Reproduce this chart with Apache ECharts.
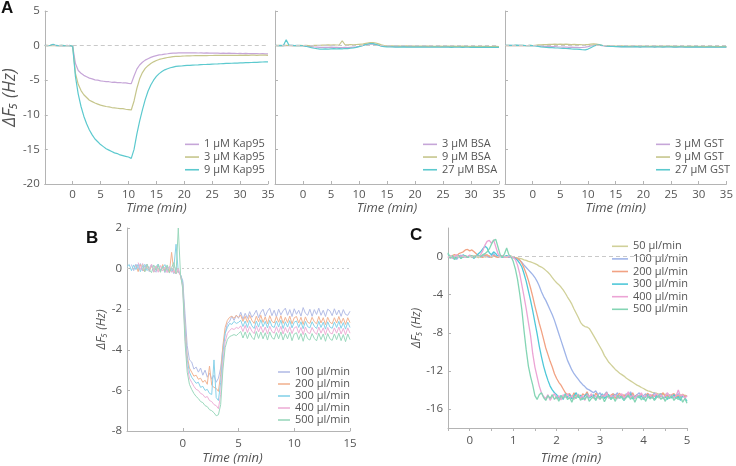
<!DOCTYPE html>
<html><head><meta charset="utf-8">
<script src="https://cdn.jsdelivr.net/npm/echarts@6/dist/echarts.min.js"></script>
<style>html,body{margin:0;padding:0;background:#fff}#c{width:736px;height:466px}</style>
</head><body><div id="c"></div>
<script>
// ---------- time grids (start, step) ----------
const tA0 = -5, tAstep = 0.5;   // panels A: -5..35 min, 81 samples
const tB0 = -5, tBstep = 0.2;   // panel B: -5..15 min, 101 samples
const tC0 = -0.5, tCstep = 0.05;// panel C: -0.5..5 min, 111 samples

// ---------- Panel A1: Kap95 ----------
const kap1 = [0.02,-0.01,0.03,0.15,-0.02,0.01,0.0,-0.03,0.02,-0.04,-0.08,
 -2.6,-3.6,-4.0,-4.3,-4.5,-4.7,-4.8,-4.95,-5.0,-5.1,
 -5.15,-5.2,-5.22,-5.3,-5.28,-5.35,-5.33,-5.4,-5.38,-5.45,
 -5.5,-4.4,-3.4,-2.8,-2.4,-2.1,-1.9,-1.7,-1.55,-1.45,
 -1.35,-1.3,-1.22,-1.18,-1.12,-1.1,-1.08,-1.06,-1.05,-1.04,
 -1.05,-1.03,-1.06,-1.04,-1.07,-1.05,-1.08,-1.06,-1.09,-1.07,
 -1.1,-1.08,-1.11,-1.09,-1.12,-1.1,-1.13,-1.11,-1.14,-1.12,
 -1.15,-1.13,-1.16,-1.14,-1.17,-1.15,-1.18,-1.16,-1.19,-1.2];
const kap3 = [0.0,0.02,-0.02,0.03,0.01,-0.01,0.02,0.0,-0.02,0.01,-0.1,
 -4.0,-5.6,-6.5,-7.1,-7.5,-7.9,-8.1,-8.3,-8.45,-8.6,
 -8.7,-8.8,-8.85,-8.95,-9.0,-9.05,-9.1,-9.1,-9.2,-9.25,
 -9.3,-8.0,-6.2,-4.8,-3.9,-3.3,-2.9,-2.6,-2.35,-2.15,
 -2.0,-1.9,-1.8,-1.72,-1.66,-1.6,-1.57,-1.55,-1.53,-1.5,
 -1.49,-1.48,-1.47,-1.46,-1.46,-1.45,-1.44,-1.44,-1.43,-1.43,
 -1.42,-1.42,-1.41,-1.42,-1.4,-1.41,-1.4,-1.41,-1.4,-1.39,
 -1.4,-1.39,-1.4,-1.38,-1.39,-1.4,-1.38,-1.39,-1.38,-1.4];
const kap9 = [0.03,0.0,0.05,0.2,0.02,-0.01,0.03,0.0,-0.02,0.02,-0.1,
 -4.5,-7.0,-8.8,-10.2,-11.3,-12.2,-12.9,-13.5,-13.9,-14.3,
 -14.6,-14.9,-15.1,-15.3,-15.5,-15.6,-15.8,-15.9,-16.0,-16.1,
 -16.3,-15.0,-12.8,-10.9,-9.3,-7.8,-6.6,-5.7,-5.0,-4.45,
 -4.05,-3.75,-3.5,-3.35,-3.2,-3.1,-3.0,-2.97,-2.95,-2.9,
 -2.87,-2.85,-2.82,-2.8,-2.78,-2.75,-2.73,-2.72,-2.7,-2.68,
 -2.66,-2.65,-2.62,-2.6,-2.58,-2.57,-2.55,-2.53,-2.52,-2.5,
 -2.49,-2.47,-2.46,-2.44,-2.42,-2.41,-2.39,-2.37,-2.36,-2.35];

// ---------- Panel A2: BSA ----------
const bsa3 = [0.02,0.01,-0.02,0.03,0,-0.01,0.02,0,-0.02,0.01,0,
 -0.05,-0.1,-0.15,-0.2,-0.22,-0.25,-0.24,-0.27,-0.25,-0.22,
 -0.25,-0.24,-0.28,-0.3,-0.27,-0.3,-0.26,-0.22,-0.18,-0.1,
 0.0,0.1,0.18,0.25,0.22,0.15,0.05,-0.05,-0.1,-0.12,
 -0.1,-0.14,-0.12,-0.15,-0.13,-0.12,-0.16,-0.14,-0.12,-0.15,
 -0.14,-0.13,-0.16,-0.12,-0.15,-0.14,-0.17,-0.13,-0.15,-0.16,
 -0.14,-0.15,-0.18,-0.14,-0.16,-0.15,-0.17,-0.16,-0.14,-0.18,
 -0.16,-0.15,-0.18,-0.17,-0.15,-0.19,-0.16,-0.18,-0.17,-0.2];
const bsa9 = [0,0.02,0.01,-0.01,0.03,0.02,0,0.01,-0.01,0.02,0.01,
 0.02,0,-0.03,0.02,0.05,0.04,0.08,0.06,0.1,0.08,
 0.1,0.09,0.12,0.7,0.12,0.1,0.14,0.12,0.16,0.18,
 0.2,0.28,0.35,0.42,0.45,0.38,0.25,0.1,0.0,-0.03,
 -0.05,-0.04,-0.06,-0.05,-0.07,-0.06,-0.05,-0.08,-0.06,-0.07,
 -0.08,-0.06,-0.07,-0.09,-0.07,-0.08,-0.1,-0.08,-0.09,-0.1,
 -0.09,-0.08,-0.1,-0.09,-0.11,-0.1,-0.09,-0.11,-0.1,-0.12,
 -0.1,-0.11,-0.13,-0.1,-0.12,-0.11,-0.13,-0.12,-0.11,-0.13];
const bsa27 = [0.03,0.01,0.02,0,0.85,0.05,0.02,-0.01,0.02,0,-0.02,
 -0.1,-0.2,-0.3,-0.38,-0.45,-0.5,-0.52,-0.48,-0.5,-0.47,
 -0.45,-0.48,-0.44,-0.46,-0.42,-0.44,-0.38,-0.32,-0.25,-0.15,
 -0.05,0.1,0.2,0.3,0.28,0.18,0.05,-0.08,-0.15,-0.18,
 -0.2,-0.18,-0.22,-0.2,-0.21,-0.19,-0.23,-0.2,-0.22,-0.21,
 -0.2,-0.23,-0.21,-0.22,-0.24,-0.2,-0.23,-0.22,-0.24,-0.21,
 -0.23,-0.22,-0.25,-0.21,-0.24,-0.23,-0.25,-0.22,-0.24,-0.26,
 -0.23,-0.25,-0.24,-0.26,-0.22,-0.25,-0.27,-0.24,-0.26,-0.25];

// ---------- Panel A3: GST ----------
const gst3 = [0.02,0,0.03,0.01,-0.01,0.02,0,0.01,-0.02,0,0.01,
 -0.02,-0.05,-0.08,-0.1,-0.12,-0.1,-0.15,-0.13,-0.18,-0.2,
 -0.22,-0.2,-0.25,-0.23,-0.27,-0.25,-0.28,-0.26,-0.22,-0.15,
 -0.05,0.05,0.1,0.08,0.0,-0.05,-0.1,-0.12,-0.1,-0.13,
 -0.14,-0.12,-0.15,-0.13,-0.16,-0.14,-0.12,-0.15,-0.17,-0.14,
 -0.16,-0.13,-0.15,-0.18,-0.14,-0.16,-0.15,-0.17,-0.14,-0.16,
 -0.18,-0.15,-0.17,-0.16,-0.19,-0.15,-0.17,-0.18,-0.16,-0.19,
 -0.17,-0.18,-0.16,-0.2,-0.18,-0.17,-0.19,-0.18,-0.2,-0.19];
const gst9 = [0,0.02,0,0.01,0.03,0,0.02,-0.01,0.01,0.02,0,
 0.05,0.1,0.12,0.15,0.14,0.17,0.18,0.2,0.18,0.2,
 0.17,0.2,0.18,0.15,0.17,0.14,0.15,0.12,0.13,0.15,
 0.2,0.25,0.22,0.15,0.05,0.0,-0.02,-0.05,-0.04,-0.06,
 -0.06,-0.05,-0.08,-0.06,-0.07,-0.05,-0.08,-0.07,-0.09,-0.06,
 -0.08,-0.1,-0.07,-0.09,-0.08,-0.1,-0.07,-0.09,-0.11,-0.08,
 -0.1,-0.09,-0.11,-0.08,-0.1,-0.12,-0.09,-0.11,-0.1,-0.12,
 -0.1,-0.13,-0.11,-0.1,-0.12,-0.14,-0.11,-0.13,-0.12,-0.14];
const gst27 = [0.03,0.05,0.02,0.04,0.06,0.03,0.05,0.02,0.01,0.03,0,
 -0.05,-0.12,-0.18,-0.22,-0.25,-0.28,-0.3,-0.33,-0.35,-0.38,
 -0.4,-0.42,-0.45,-0.48,-0.5,-0.52,-0.55,-0.6,-0.62,-0.5,
 -0.3,-0.1,0.05,0.1,0.05,-0.02,-0.08,-0.1,-0.12,-0.15,
 -0.16,-0.18,-0.15,-0.19,-0.17,-0.2,-0.16,-0.18,-0.21,-0.17,
 -0.19,-0.2,-0.17,-0.21,-0.18,-0.2,-0.22,-0.18,-0.2,-0.19,
 -0.21,-0.23,-0.19,-0.2,-0.22,-0.2,-0.23,-0.21,-0.19,-0.22,
 -0.21,-0.24,-0.2,-0.22,-0.23,-0.21,-0.24,-0.22,-0.2,-0.23];

// ---------- Panel B: flow rates ----------
const fB100 = [null,null,0.2,-0.1,0.22,-0.05,0.25,-0.12,0.15,0.2,-0.15,0.18,-0.05,-0.18,0.2,-0.1,0.1,-0.2,0.12,-0.15,0.0,-0.25,0.05,-0.2,-0.3,
 -0.6,-2.2,-3.8,-4.5,-4.6,-4.95,-4.85,-5.1,-4.9,-5.25,-5.0,-5.35,-5.15,-5.45,-5.25,-5.6,-5.4,-4.9,-3.9,-3.2,-2.7,-2.6,-2.35,-2.55,-2.3,-2.45,
 -2.15,-2.5,-2.2,-2.45,-2.12,-2.4,-2.25,-2.05,-2.42,-2.15,
 -2.0,-2.35,-2.1,-1.95,-2.32,-2.05,-2.38,-2.0,-2.28,-2.08,
 -1.95,-2.3,-2.02,-2.36,-1.98,-2.25,-2.05,-2.34,-1.92,-2.2,
 -2.3,-2.0,-2.35,-2.02,-2.26,-1.95,-2.3,-2.05,-2.36,-2.0,
 -2.08,-2.32,-1.98,-2.28,-2.04,-2.35,-2.02,-2.26,-2.3,-2.1];
const fB200 = [null,null,null,null,0.15,-0.15,0.2,-0.05,-0.15,0.18,-0.1,0.15,-0.18,0.12,-0.05,-0.15,0.2,-0.1,0.05,-0.2,0.8,-0.15,-0.25,-0.1,-0.35,
 -0.8,-2.8,-4.3,-4.9,-5.1,-5.3,-5.25,-5.45,-5.4,-5.6,-5.5,-5.7,-4.8,-5.75,-5.85,-5.9,-6.05,-5.2,-3.8,-2.9,-2.55,-2.4,-2.35,-2.45,-2.3,-2.4,
 -2.3,-2.6,-2.35,-2.65,-2.3,-2.55,-2.7,-2.35,-2.62,-2.3,
 -2.65,-2.38,-2.72,-2.32,-2.6,-2.68,-2.36,-2.64,-2.32,-2.7,
 -2.4,-2.66,-2.34,-2.72,-2.42,-2.36,-2.68,-2.4,-2.75,-2.38,
 -2.64,-2.7,-2.4,-2.62,-2.72,-2.36,-2.68,-2.42,-2.76,-2.4,
 -2.64,-2.72,-2.42,-2.68,-2.36,-2.7,-2.44,-2.75,-2.42,-2.66];
const fB300 = [0.1,0.2,-0.1,0.18,-0.05,0.22,-0.15,0.12,0.2,-0.1,0.05,0.18,-0.15,0.1,0.22,-0.1,0.05,0.2,-0.12,0.1,-0.15,0.05,1.2,-0.15,-0.3,
 -0.7,-3.0,-4.5,-5.1,-5.35,-5.5,-5.65,-5.6,-5.85,-5.8,-6.0,-5.95,-6.15,-6.2,-4.5,-6.35,-6.5,-5.6,-4.2,-3.2,-2.9,-2.7,-2.75,-2.6,-2.7,-2.65,
 -2.55,-2.85,-2.58,-2.9,-2.55,-2.82,-2.95,-2.58,-2.88,-2.52,
 -2.86,-2.6,-2.92,-2.55,-2.84,-2.9,-2.58,-2.88,-2.54,-2.95,
 -2.62,-2.88,-2.56,-2.92,-2.64,-2.58,-2.9,-2.62,-2.96,-2.6,
 -2.86,-2.92,-2.62,-2.84,-2.95,-2.6,-2.9,-2.64,-2.98,-2.62,
 -2.88,-2.94,-2.64,-2.9,-2.6,-2.94,-2.66,-2.98,-2.64,-2.9];
const fB400 = [null,null,null,null,null,0.3,-0.05,0.25,-0.1,0.2,-0.05,0.22,-0.15,0.12,-0.18,0.15,-0.12,0.08,-0.2,0.1,-0.18,-0.1,-0.25,0.0,-0.35,
 -0.9,-3.3,-4.8,-5.4,-5.6,-5.8,-5.95,-6.0,-6.15,-6.2,-6.35,-6.3,-6.5,-6.55,-6.7,-6.75,-6.9,-6.2,-4.6,-3.6,-3.2,-3.05,-2.95,-3.0,-2.9,-2.95,
 -2.82,-3.1,-2.8,-3.15,-2.85,-3.08,-3.2,-2.82,-3.12,-2.84,
 -3.15,-2.88,-3.22,-2.84,-3.1,-3.18,-2.86,-3.15,-2.84,-3.22,
 -2.9,-3.16,-2.86,-3.2,-2.92,-2.86,-3.18,-2.9,-3.25,-2.88,
 -3.14,-3.2,-2.9,-3.12,-3.24,-2.88,-3.18,-2.92,-3.26,-2.9,
 -3.16,-3.22,-2.92,-3.18,-2.88,-3.22,-2.94,-3.26,-2.92,-3.18];
const fB500 = [null,null,null,null,null,null,null,0.2,-0.15,0.22,-0.05,-0.2,0.18,-0.1,0.2,-0.18,0.12,-0.15,0.18,-0.22,0.05,0.3,-0.25,2.0,-0.3,
 -1.0,-3.6,-5.1,-5.7,-5.95,-6.15,-6.3,-6.4,-6.55,-6.6,-6.75,-6.8,-6.95,-7.0,-7.1,-7.25,-7.2,-6.7,-5.0,-3.9,-3.5,-3.35,-3.3,-3.25,-3.3,-3.2,
 -3.1,-3.42,-3.12,-3.45,-3.15,-3.38,-3.5,-3.1,-3.44,-3.12,
 -3.46,-3.16,-3.52,-3.12,-3.4,-3.48,-3.15,-3.46,-3.12,-3.52,
 -3.2,-3.46,-3.14,-3.55,-3.22,-3.16,-3.5,-3.2,-3.58,-3.18,
 -3.45,-3.52,-3.2,-3.44,-3.56,-3.18,-3.5,-3.22,-3.58,-3.2,
 -3.46,-3.54,-3.22,-3.5,-3.18,-3.55,-3.25,-3.6,-3.22,-3.5];

// ---------- Panel C: flow rates, early phase ----------
const fC50 = [0.1,-0.1,0.05,-0.15,0.0,0.12,-0.05,0.08,-0.1,0.0,
 0.05,-0.08,0.1,0.0,-0.12,0.05,0.15,-0.05,0.0,0.1,
 -0.1,0.05,0.0,-0.05,0.1,0.0,-0.08,0.05,0.0,-0.05,
 -0.05,-0.1,-0.15,-0.2,-0.25,-0.35,-0.4,-0.5,-0.55,-0.65,
 -0.75,-0.85,-1.0,-1.1,-1.25,-1.45,-1.65,-1.9,-2.2,-2.5,
 -2.75,-2.95,-3.2,-3.5,-3.85,-4.25,-4.6,-5.0,-5.5,-5.95,
 -6.4,-6.9,-7.2,-7.35,-7.4,-7.55,-7.9,-8.3,-8.7,-9.1,
 -9.5,-9.9,-10.4,-10.75,-11.1,-11.35,-11.6,-11.85,-12.05,-12.25,
 -12.4,-12.55,-12.75,-12.9,-13.05,-13.2,-13.35,-13.5,-13.6,-13.75,
 -13.85,-14.0,-14.1,-14.15,-14.25,-14.3,-14.35,-14.45,-14.4,-14.5,
 -14.45,-14.6,-14.5,-14.65,-14.5,-14.6,-14.7,-14.5,-14.65,-14.55,-14.7];
const fC100 = [-0.1,0.1,-0.2,0.05,-0.3,0.0,0.15,-0.1,0.1,-0.05,
 0.05,0.1,-0.1,0.0,0.15,-0.05,0.05,0.2,0.0,-0.1,
 0.1,0.3,0.0,0.1,-0.05,0.1,0.0,0.05,-0.1,0.0,
 -0.05,-0.15,-0.25,-0.4,-0.6,-0.9,-1.15,-1.4,-1.65,-1.9,
 -2.2,-2.6,-3.1,-3.7,-4.2,-4.6,-5.1,-5.6,-6.1,-6.7,
 -7.4,-8.1,-8.8,-9.5,-10.2,-10.9,-11.4,-11.9,-12.3,-12.6,
 -12.9,-13.2,-13.45,-13.65,-13.9,-14.0,-14.15,-14.3,-14.1,-14.5,
 -14.3,-14.8,-14.5,-14.2,-14.7,-14.9,-14.4,-14.6,-14.3,-14.8,
 -14.5,-14.95,-14.4,-14.7,-14.2,-14.6,-14.9,-14.5,-14.3,-14.75,
 -14.6,-14.4,-14.85,-14.5,-14.65,-14.3,-14.8,-14.55,-14.4,-14.9,
 -14.6,-14.35,-14.75,-14.5,-14.85,-14.6,-14.4,-14.7,-14.5,-14.8,-14.6];
const fC200 = [0.0,-0.1,0.1,0.2,0.1,0.3,0.4,0.5,0.7,0.75,
 0.6,0.7,0.5,0.3,0.1,0.0,-0.1,0.1,0.2,0.0,
 -0.05,0.1,0.0,-0.1,0.05,0.1,0.0,-0.05,0.0,0.05,
 -0.05,-0.1,-0.2,-0.35,-0.7,-1.2,-1.8,-2.5,-3.3,-4.2,
 -5.2,-6.1,-7.0,-7.8,-8.7,-9.6,-10.3,-11.0,-11.6,-12.3,
 -12.8,-13.2,-13.5,-13.9,-14.3,-14.5,
 -14.4,-14.8,-14.3,-14.7,-14.5,-14.9,-14.4,-14.6,-14.2,-14.75,
 -14.5,-14.85,-14.35,-14.6,-14.9,-14.5,-14.7,-14.3,-14.8,-14.55,
 -14.4,-14.9,-14.6,-14.35,-14.75,-14.5,-14.85,-14.4,-14.65,-14.3,
 -14.8,-14.55,-14.7,-14.4,-14.9,-14.6,-14.35,-14.8,-14.5,-14.7,
 -14.45,-14.85,-14.6,-14.3,-14.75,-14.55,-14.9,-14.5,-14.4,-14.7,
 -14.6,-14.85,-14.45,-14.7,-14.6];
const fC300 = [0.3,-0.1,0.0,-0.3,0.1,0.0,-0.2,0.2,0.0,-0.1,
 0.1,0.0,-0.2,0.1,0.3,0.5,0.8,1.1,0.9,0.4,
 0.2,0.5,0.3,0.0,0.1,-0.1,0.0,0.1,0.0,-0.1,
 -0.1,-0.2,-0.4,-0.7,-1.1,-1.8,-2.6,-3.6,-4.6,-5.7,
 -6.9,-8.1,-9.4,-10.5,-11.5,-12.3,-13.0,-13.6,-14.0,-14.3,
 -14.5,-14.9,-14.6,-15.0,-14.4,-14.8,-14.5,-14.95,-14.6,-14.3,
 -14.8,-14.55,-15.0,-14.6,-14.4,-14.85,-14.7,-14.5,-15.05,-14.6,
 -14.8,-14.4,-14.9,-14.65,-14.5,-15.0,-14.7,-14.45,-14.9,-14.6,
 -14.8,-15.1,-14.6,-14.75,-14.4,-14.95,-14.7,-14.5,-14.85,-14.6,
 -15.0,-14.7,-14.5,-14.9,-14.65,-15.05,-14.6,-14.8,-14.45,-14.9,
 -14.7,-15.0,-14.6,-14.85,-14.5,-14.9,-14.7,-15.1,-14.6,-14.8,-15.2];
const fC400 = [-0.1,0.1,-0.2,0.0,0.2,-0.1,0.05,0.1,-0.1,0.0,
 0.15,0.0,-0.1,0.1,0.0,0.2,0.6,1.2,1.6,1.7,
 1.4,1.75,1.0,0.3,0.0,0.1,-0.1,0.0,0.05,-0.1,
 -0.1,-0.3,-0.9,-1.8,-3.0,-4.2,-5.5,-6.9,-8.3,-10.2,
 -11.6,-12.6,-13.6,-14.3,-14.7,
 -14.9,-14.5,-15.1,-14.7,-14.4,-14.95,-14.6,-15.05,-14.5,-14.8,
 -14.4,-14.9,-14.6,-15.0,-14.7,-14.45,-14.85,-14.6,-15.1,-14.5,
 -14.75,-14.4,-14.9,-14.6,-14.8,-15.0,-14.55,-14.7,-14.35,-14.9,
 -14.6,-14.8,-14.5,-14.95,-14.65,-14.4,-14.85,-14.6,-14.2,-14.8,
 -14.55,-14.9,-14.5,-14.7,-14.3,-14.85,-14.6,-14.75,-14.45,-14.9,
 -14.6,-14.4,-14.8,-14.5,-14.95,-14.6,-14.3,-14.7,-14.5,-14.85,
 -14.6,-14.0,-14.7,-14.5,-14.9,-14.6];
const fC500 = [0.4,-0.2,0.1,-0.3,-0.1,0.1,-0.2,0.0,0.1,-0.1,
 0.0,0.1,-0.1,0.05,0.1,0.0,0.2,0.3,0.5,0.8,
 1.3,1.7,1.8,1.0,0.2,-0.1,0.3,0.9,0.2,0.0,
 -0.5,-1.3,-2.4,-3.9,-5.6,-7.8,-9.8,-11.5,-12.6,-13.5,
 -14.6,-15.0,-14.5,-14.3,
 -14.8,-15.1,-14.6,-14.9,-14.5,-15.0,-14.7,-15.2,-14.6,-14.9,
 -14.5,-15.0,-14.8,-15.3,-14.7,-14.9,-14.5,-15.1,-14.8,-15.0,
 -14.6,-15.2,-14.9,-14.7,-15.1,-14.6,-14.95,-14.7,-15.25,-14.8,
 -14.6,-15.0,-14.75,-15.2,-14.6,-14.9,-14.7,-15.1,-14.8,-14.55,
 -15.0,-14.7,-15.3,-14.8,-14.6,-15.05,-14.75,-15.2,-14.65,-14.95,
 -14.7,-15.1,-14.8,-14.6,-15.0,-14.75,-15.2,-14.7,-14.9,-14.6,
 -15.1,-14.8,-15.0,-14.7,-15.3,-14.9,-15.4];

// ---------- tick label values ----------
const ticksAx = [0,5,10,15,20,25,30,35];
const ticksAy = [5,0,-5,-10,-15,-20];
const ticksBx = [0,5,10,15];
const ticksBy = [2,0,-2,-4,-6,-8];
const ticksCx = [0,1,2,3,4,5];
const ticksCy = [0,-4,-8,-12,-16];

// ---------- legend labels ----------
const legA1 = ['1 µM Kap95','3 µM Kap95','9 µM Kap95'];
const legA2 = ['3 µM BSA','9 µM BSA','27 µM BSA'];
const legA3 = ['3 µM GST','9 µM GST','27 µM GST'];
const legB = ['100 µl/min','200 µl/min','300 µl/min','400 µl/min','500 µl/min'];
const legC = ['50 µl/min','100 µl/min','200 µl/min','300 µl/min','400 µl/min','500 µl/min'];

// ---------- styling ----------
const FONT = "'Open Sans','Noto Sans',sans-serif";
const AX = '#b4b4b4', TXT = '#555';
const colA = ['#c6a6d8','#c6c68c','#5cc9ce'];
const colB = ['#b4bde6','#f2b493','#88d2e9','#eeb0d7','#9bd8bd'];
const colC = ['#d0d099','#9fb4e8','#f2a283','#4fc8d8','#eca4d5','#84d5b4'];

function toPts(t0, dt, vals){
  const out = [];
  vals.forEach((v,i)=>{ if(v!==null) out.push([+(t0+dt*i).toFixed(3), v]); });
  return out;
}
function lineSeries(name, vals, t0, dt, color, idx, width){
  return {type:'line', name, data:toPts(t0,dt,vals), xAxisIndex:idx, yAxisIndex:idx,
    symbol:'none', showSymbol:false, animation:false, silent:true, z:3,
    lineStyle:{color, width}, itemStyle:{color}};
}
function zeroSeries(idx, dash){
  return {type:'line', data:[], xAxisIndex:idx, yAxisIndex:idx, z:1, silent:true, animation:false,
    markLine:{silent:true, symbol:'none', animation:false, label:{show:false},
      lineStyle:{color:'#c9c9c9', width:1, type:dash}, data:[{yAxis:0}]}};
}
function inList(list){ return v => list.some(x=>Math.abs(x-v)<1e-9) ? String(v) : ''; }

function xAx(idx, min, max, interval, list, extra){
  return Object.assign({type:'value', gridIndex:idx, min, max, interval,
    axisLine:{show:true, onZero:false, lineStyle:{color:AX}},
    axisTick:{show:true, inside:true, length:3, lineStyle:{color:AX}},
    splitLine:{show:false},
    axisLabel:{color:TXT, fontSize:11.5, fontFamily:FONT, margin:5, formatter:inList(list)},
    name:'Time (min)', nameLocation:'middle', nameGap:18,
    nameTextStyle:{color:TXT, fontSize:13, fontStyle:'italic', fontFamily:FONT}}, extra||{});
}
function yAx(idx, min, max, interval, list, extra){
  return Object.assign({type:'value', gridIndex:idx, min, max, interval,
    axisLine:{show:true, onZero:false, lineStyle:{color:AX}},
    axisTick:{show:true, inside:true, length:3, lineStyle:{color:AX}},
    splitLine:{show:false},
    axisLabel:{color:TXT, fontSize:11.5, fontFamily:FONT, margin:5, formatter:inList(list)}}, extra||{});
}
const yNameA = {name:'ΔF₅ (Hz)', nameLocation:'middle', nameGap:13,
  nameTextStyle:{color:TXT, fontSize:17.5, fontStyle:'italic', fontFamily:FONT}};
function legend(names, left, top, w, lh){
  return {show:true, data:names, orient:'vertical', left, top, icon:'rect', itemWidth:w, itemHeight:1.6,
    itemGap:0, selectedMode:false, padding:0,
    formatter: n => n.indexOf('|')>=0 ? n.split('|')[1] : n,
    textStyle:{color:TXT, fontSize:11, fontFamily:FONT, lineHeight:lh}};
}

const series = [
  zeroSeries(0,[4,3]), zeroSeries(1,[4,3]), zeroSeries(2,[4,3]), zeroSeries(3,[2,3]), zeroSeries(4,[4,3]),
  lineSeries(legA1[0], kap1, tA0, tAstep, colA[0], 0, 1.2),
  lineSeries(legA1[1], kap3, tA0, tAstep, colA[1], 0, 1.2),
  lineSeries(legA1[2], kap9, tA0, tAstep, colA[2], 0, 1.2),
  lineSeries(legA2[0], bsa3, tA0, tAstep, colA[0], 1, 1.2),
  lineSeries(legA2[1], bsa9, tA0, tAstep, colA[1], 1, 1.2),
  lineSeries(legA2[2], bsa27, tA0, tAstep, colA[2], 1, 1.2),
  lineSeries(legA3[0], gst3, tA0, tAstep, colA[0], 2, 1.2),
  lineSeries(legA3[1], gst9, tA0, tAstep, colA[1], 2, 1.2),
  lineSeries(legA3[2], gst27, tA0, tAstep, colA[2], 2, 1.2),
];
const Bvals = [fB100,fB200,fB300,fB400,fB500];
Bvals.forEach((v,i)=>series.push(lineSeries('B|'+legB[i], v, tB0, tBstep, colB[i], 3, 1)));
const Cvals = [fC50,fC100,fC200,fC300,fC400,fC500];
Cvals.forEach((v,i)=>series.push(lineSeries('C|'+legC[i], v, tC0, tCstep, colC[i], 4, 1.3)));

const option = {
  animation:false,
  backgroundColor:'#fff',
  grid:[
    {left:44, top:11, width:224, height:173},
    {left:275, top:11, width:224, height:173},
    {left:505, top:11, width:224, height:173},
    {left:127, top:228, width:223, height:203},
    {left:448, top:228, width:239, height:201}
  ],
  xAxis:[
    xAx(0,-5,35,5,ticksAx),
    xAx(1,-5,35,5,ticksAx),
    xAx(2,-5,35,5,ticksAx),
    xAx(3,-5,15,5,ticksBx,{nameGap:21, axisLabel:{color:TXT, fontSize:11.5, fontFamily:FONT, margin:7, formatter:inList(ticksBx)},
       nameTextStyle:{color:TXT, fontSize:13, fontStyle:'italic', fontFamily:FONT, padding:[0,12,0,0]}}),
    xAx(4,-0.5,5,0.5,ticksCx,{nameGap:24, axisTick:{show:true, inside:false, length:3, lineStyle:{color:AX}},
       axisLabel:{color:TXT, fontSize:11.5, fontFamily:FONT, margin:7, formatter:inList(ticksCx)},
       nameTextStyle:{color:TXT, fontSize:13, fontStyle:'italic', fontFamily:FONT, padding:[0,0,0,7]}})
  ],
  yAxis:[
    yAx(0,-20,5,5,ticksAy,yNameA),
    yAx(1,-20,5,5,ticksAy,{axisLabel:{show:false}}),
    yAx(2,-20,5,5,ticksAy,{axisLabel:{show:false}}),
    yAx(3,-8,2,2,ticksBy,{name:'ΔF₅ (Hz)', nameLocation:'middle', nameGap:19,
       nameTextStyle:{color:TXT, fontSize:12, fontStyle:'italic', fontFamily:FONT}}),
    {type:'value', gridIndex:4, min:-18, max:3,
      axisLine:{show:true, onZero:false, lineStyle:{color:AX}},
      axisTick:{show:true, inside:true, length:3, customValues:ticksCy, lineStyle:{color:AX}},
      splitLine:{show:false},
      axisLabel:{color:TXT, fontSize:11.5, fontFamily:FONT, margin:5, customValues:ticksCy},
      name:'ΔF₅ (Hz)', nameLocation:'middle', nameGap:25,
      nameTextStyle:{color:TXT, fontSize:12, fontStyle:'italic', fontFamily:FONT}}
  ],
  legend:[
    legend(legA1, 185, 138, 14, 12.7),
    legend(legA2, 423, 138, 14, 12.7),
    legend(legA3, 656, 138, 14, 12.7),
    legend(legB.map(n=>'B|'+n), 278, 366, 12, 12),
    legend(legC.map(n=>'C|'+n), 612, 240, 16, 12.6)
  ],
  graphic:[
    {type:'text', left:1, top:0, style:{text:'A', fontSize:17, fontWeight:'bold', fill:'#111', fontFamily:"'Liberation Sans',Arial,sans-serif"}},
    {type:'text', left:86, top:230, style:{text:'B', fontSize:17, fontWeight:'bold', fill:'#111', fontFamily:"'Liberation Sans',Arial,sans-serif"}},
    {type:'text', left:410, top:227, style:{text:'C', fontSize:17, fontWeight:'bold', fill:'#111', fontFamily:"'Liberation Sans',Arial,sans-serif"}}
  ],
  series
};
const chart = echarts.init(document.getElementById('c'), null, {renderer:'canvas'});
chart.setOption(option);
</script>
</body></html>
